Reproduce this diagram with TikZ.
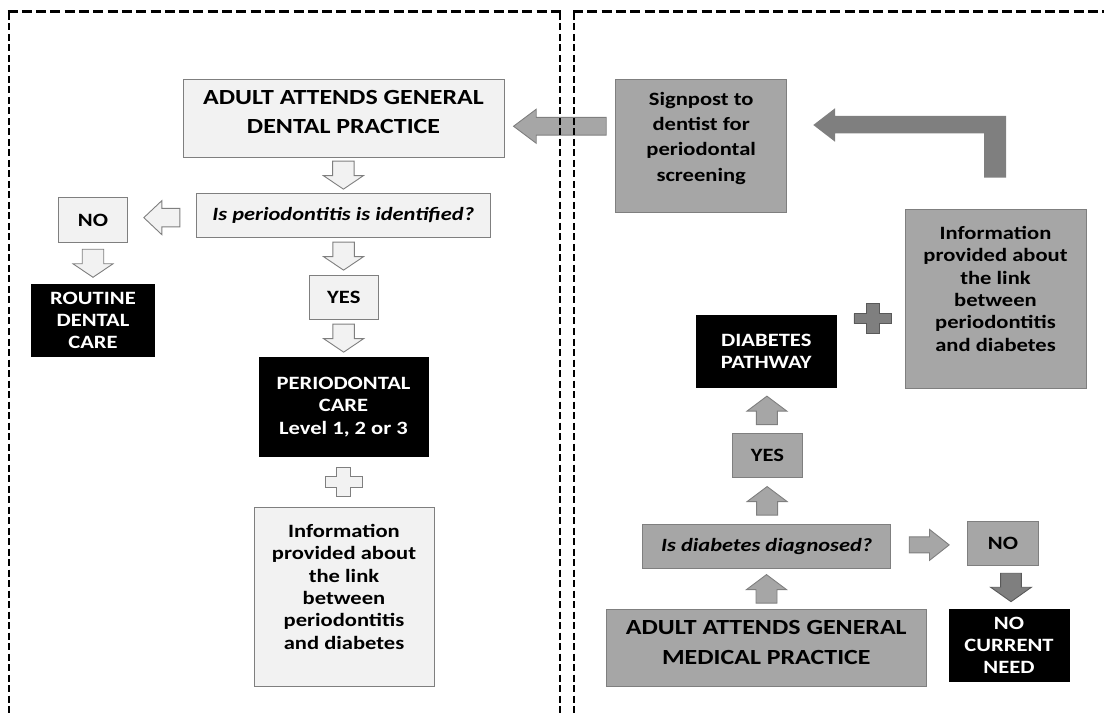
\documentclass[tikz,border=0pt]{standalone}
\usepackage{fontspec}
\setmainfont{Carlito}[FakeStretch=1.2]
\usepackage{xcolor}
\usetikzlibrary{calc}
\definecolor{paleFill}{HTML}{F2F2F2}
\definecolor{midFill}{HTML}{A6A6A6}
\definecolor{darkFill}{HTML}{7F7F7F}
\definecolor{edgeCol}{HTML}{7F7F7F}
\definecolor{darkEdge}{HTML}{595959}
\tikzset{
  pics/blkarrow/.style n args={4}{code={% length, head length, head width, shaft width
    \path[pic actions] ({-#1/2},{-#4/2}) -- ({#1/2-#2},{-#4/2}) -- ({#1/2-#2},{-#3/2}) -- ({#1/2},0)
      -- ({#1/2-#2},{#3/2}) -- ({#1/2-#2},{#4/2}) -- ({-#1/2},{#4/2}) -- cycle;
  }},
  pics/plusblk/.style n args={4}{code={% width, height, vertical arm, horizontal arm
    \path[pic actions] ({-#3/2},{-#2/2}) -- ({#3/2},{-#2/2}) -- ({#3/2},{-#4/2}) -- ({#1/2},{-#4/2})
      -- ({#1/2},{#4/2}) -- ({#3/2},{#4/2}) -- ({#3/2},{#2/2}) -- ({-#3/2},{#2/2}) -- ({-#3/2},{#4/2})
      -- ({-#1/2},{#4/2}) -- ({-#1/2},{-#4/2}) -- ({-#3/2},{-#4/2}) -- cycle;
  }}
}
\begin{document}
\begin{tikzpicture}[x=1pt,y=-1pt,
  box/.style={rectangle,inner sep=0pt,align=center,line width=0.9pt,font=\bfseries\fontsize{18.8}{22.3}\selectfont},
  pale/.style={box,draw=edgeCol,fill=paleFill},
  mid/.style={box,draw=edgeCol,fill=midFill},
  blk/.style={box,draw=black,fill=black,text=white},
  big/.style={font=\bfseries\fontsize{21.6}{29.3}\selectfont},
  quest/.style={font=\bfseries\itshape\fontsize{18.7}{22}\selectfont},
  loose/.style={font=\bfseries\fontsize{18.8}{25.3}\selectfont},
  palearr/.style={draw=edgeCol,fill=paleFill,line width=0.9pt},
  midarr/.style={draw=edgeCol,fill=midFill,line width=0.9pt},
  darkarr/.style={draw=darkEdge,fill=darkFill,line width=0.9pt},
  hpanel/.style={line width=2.8pt,dash pattern=on 10pt off 4.3pt},
  vpanel/.style={line width=2.7pt,dash pattern=on 7pt off 3.5pt}]
\useasboundingbox (0,0) rectangle (1104,714);

% dental practice side
\node[pale,big,minimum width=321pt,minimum height=78pt,text depth=12pt] (dental) at (343.5,118) {ADULT ATTENDS GENERAL\\DENTAL PRACTICE};
\node[pale,quest,minimum width=294.7pt,minimum height=44pt] (qdent) at (343.3,215.3) {Is periodontitis is identified?};
\node[pale,minimum width=69.4pt,minimum height=44.6pt] (no1) at (93,220) {NO};
\node[blk,minimum width=122.6pt,minimum height=72.4pt] (routine) at (93,320.5) {ROUTINE\\DENTAL\\CARE};
\node[pale,minimum width=69pt,minimum height=44pt] (yes1) at (343.8,297) {YES};
\node[blk,minimum width=169pt,minimum height=99.4pt] (perio) at (343.5,407) {PERIODONTAL\\CARE\\Level 1, 2 or 3};
\node[pale,minimum width=180pt,minimum height=179.7pt,text depth=20pt] (info1) at (344,596.8) {Information\\provided about\\the link\\between\\periodontitis\\and diabetes};

\pic[palearr,rotate=-90] at ($(dental.south)!.5!(qdent.north)$) {blkarrow={28}{13.5}{40}{21.5}};
\pic[palearr,rotate=180] at ($(no1.east)!.5!(qdent.west)$) {blkarrow={36}{18}{34}{18.5}};
\pic[palearr,rotate=-90] at ($(no1.south)!.5!(routine.north)$) {blkarrow={28}{13.5}{40}{21.5}};
\pic[palearr,rotate=-90] at ($(qdent.south)!.5!(yes1.north)$) {blkarrow={28}{13.5}{40}{21.5}};
\pic[palearr,rotate=-90] at ($(yes1.south)!.5!(perio.north)$) {blkarrow={28}{13.5}{40}{21.5}};
\pic[palearr] at ($(perio.south)!.5!(info1.north)$) {plusblk={37}{29.3}{13.7}{10.7}};

% medical practice side
\node[mid,loose,minimum width=171pt,minimum height=133.3pt,text depth=18pt] (sign) at (701.2,145.7) {Signpost to\\dentist for\\periodontal\\screening};
\node[mid,minimum width=181pt,minimum height=179.3pt,text depth=20pt] (info2) at (995.5,298.7) {Information\\provided about\\the link\\between\\periodontitis\\and diabetes};
\node[blk,minimum width=140.7pt,minimum height=71.8pt] (pathway) at (766.3,351.6) {DIABETES\\PATHWAY};
\node[mid,minimum width=69.6pt,minimum height=44pt] (yes2) at (767.5,455.3) {YES};
\node[mid,quest,minimum width=248pt,minimum height=44.4pt] (qmed) at (766.7,546.5) {Is diabetes diagnosed?};
\node[mid,minimum width=70.6pt,minimum height=44.7pt] (no2) at (1003,543.3) {NO};
\node[mid,big,minimum width=320.7pt,minimum height=77.7pt,text depth=11pt] (medical) at (766.3,647.8) {ADULT ATTENDS GENERAL\\MEDICAL PRACTICE};
\node[blk,minimum width=120pt,minimum height=72.4pt] (noneed) at (1009,645.5) {NO\\CURRENT\\NEED};

\pic[midarr,rotate=180] at ($(dental.east)!.5!(sign.west)+(0,-5.6)$) {blkarrow={92.7}{22.7}{34}{17.7}};
\fill[darkFill] (813.3,125) -- (835,108.3) -- (835,116) -- (1006,116) -- (1006,177.7)
  -- (984,177.7) -- (984,133.3) -- (835,133.3) -- (835,141.7) -- cycle;
\pic[darkarr] at ($(pathway.east)!.5!(info2.west)+(2,-6.6)$) {plusblk={37.7}{30}{13}{10}};
\pic[midarr,rotate=90] at ($(yes2.north)!.5!(pathway.south)$) {blkarrow={28.5}{15}{40}{21}};
\pic[midarr,rotate=90] at ($(qmed.north)!.5!(yes2.south)$) {blkarrow={28.5}{15}{40}{21}};
\pic[midarr,rotate=90] at ($(medical.north)!.5!(qmed.south)$) {blkarrow={28.5}{15}{40}{21}};
\pic[midarr] at ($(qmed.east)!.5!(no2.west)$) {blkarrow={40}{19.7}{31}{16}};
\pic[darkarr,rotate=-90] at ($(no2.south)!.5!(noneed.north)+(5,0)$) {blkarrow={28.4}{14.4}{40.7}{20.7}};

% panels
\draw[hpanel] (7.5,11.5) -- (561,11.5);
\draw[hpanel] (573,11.5) -- (1104,11.5);
\draw[vpanel] (9,13) -- (9,714);
\draw[vpanel] (560,13) -- (560,714);
\draw[vpanel] (574,13) -- (574,714);
\end{tikzpicture}
\end{document}
